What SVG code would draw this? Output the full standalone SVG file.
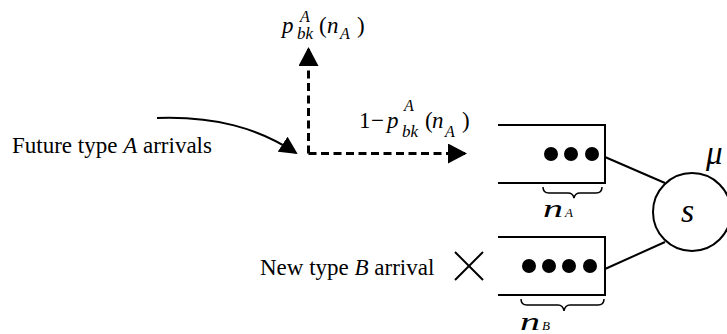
<svg xmlns="http://www.w3.org/2000/svg" width="727" height="334" viewBox="0 0 727 334">
<defs>
<style>
.t{font-family:"Liberation Serif","Times New Roman",serif;font-size:23px;fill:#000}
.m{font-family:"Liberation Serif","Times New Roman",serif;font-style:italic;fill:#000}
.ln{stroke:#000;stroke-width:2;fill:none}
.br{stroke:#000;stroke-width:1.5;fill:none}
.dash{stroke:#000;stroke-width:3;fill:none;stroke-dasharray:8 4.5}
</style>
<marker id="ah" viewBox="0 0 19 20" refX="17" refY="10" markerWidth="19" markerHeight="20" markerUnits="userSpaceOnUse" orient="auto"><path d="M0,0 L19,10 L0,20 z" fill="#000"/></marker>
<marker id="ahc" viewBox="0 0 18 18" refX="16" refY="9" markerWidth="18" markerHeight="18" markerUnits="userSpaceOnUse" orient="auto"><path d="M0,0 L18,9 L0,18 z" fill="#000"/></marker>
</defs>
<g id="labels">
<text class="t" x="12" y="153">Future type <tspan font-style="italic">A</tspan> arrivals</text>
<text class="t" x="260" y="275">New type <tspan font-style="italic">B</tspan> arrival</text>
<g id="pTop">
<text class="m" font-size="23" x="282" y="33">p</text>
<text class="m" font-size="16" x="300" y="22">A</text>
<text class="m" font-size="17" x="297" y="39">bk</text>
<text class="t" x="319" y="33">(</text>
<text class="m" font-size="23" x="327" y="33">n</text>
<text class="m" font-size="16" x="340" y="39">A</text>
<text class="t" x="357" y="33">)</text>
</g>
<g id="pRight">
<text class="t" x="359" y="128">1</text>
<text class="t" x="371" y="128">−</text>
<text class="m" font-size="23" x="387" y="128">p</text>
<text class="m" font-size="16" x="404" y="111">A</text>
<text class="m" font-size="17" x="402" y="137">bk</text>
<text class="t" x="425" y="128">(</text>
<text class="m" font-size="23" x="432" y="128">n</text>
<text class="m" font-size="16" x="445" y="137">A</text>
<text class="t" x="462" y="128">)</text>
</g>
</g>
<g id="connectors">
<path class="ln" stroke-width="3" d="M157,118 C215,116 258,128 296,153" marker-end="url(#ahc)"/>
<path class="dash" d="M308.5,153.5 L308.5,49" marker-end="url(#ah)"/>
<path class="dash" d="M308.5,153.5 L465,153.5" marker-end="url(#ah)"/>
<line class="ln" x1="605" y1="157" x2="665" y2="183"/>
<line class="ln" x1="605" y1="269" x2="665" y2="242"/>
<path class="ln" d="M455,252 L483,280 M483,252 L455,280"/>
</g>
<g id="queueA">
<path class="ln" d="M498,125 L605,125 L605,183 L498,183"/>
<circle cx="551" cy="154" r="7"/>
<circle cx="571" cy="154" r="7"/>
<circle cx="592" cy="154" r="7"/>
<path class="br" d="M543,187 Q543,193 549,193 L568,193 Q573,193 574,198 Q575,193 580,193 L596,193 Q602,193 602,187"/>
<text class="m" font-size="25" x="543" y="217" textLength="20" lengthAdjust="spacingAndGlyphs">n</text>
<text class="m" font-size="13" x="565" y="217">A</text>
</g>
<g id="queueB">
<path class="ln" d="M498,237 L605,237 L605,295 L498,295"/>
<circle cx="529" cy="266" r="7"/>
<circle cx="549" cy="266" r="7"/>
<circle cx="569" cy="266" r="7"/>
<circle cx="590" cy="266" r="7"/>
<path class="br" d="M521,299 Q521,305 527,305 L558,305 Q563,305 564,311 Q565,305 570,305 L598,305 Q604,305 604,299"/>
<text class="m" font-size="25" x="520" y="330" textLength="20" lengthAdjust="spacingAndGlyphs">n</text>
<text class="m" font-size="13" x="542" y="330">B</text>
</g>
<g id="server">
<circle class="ln" cx="692" cy="212" r="39" fill="#fff"/>
<text class="m" font-size="34" x="681" y="222">s</text>
<text class="m" font-size="33" x="706" y="164">μ</text>
</g>
</svg>
